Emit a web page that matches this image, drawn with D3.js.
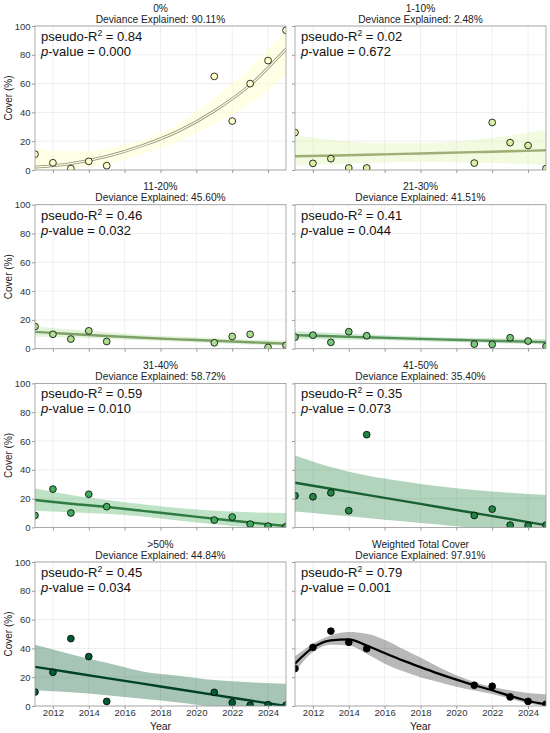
<!DOCTYPE html>
<html>
<head>
<meta charset="utf-8">
<script src="https://cdn.jsdelivr.net/npm/d3@7"></script>
<style>
  body { margin: 0; background: #fff; }
  svg { display: block; font-family: "Liberation Sans", Arial, sans-serif; }
</style>
</head>
<body>
<div id="chart"></div>
<script>
// observed years
const years = [2011, 2012, 2013, 2014, 2015, 2021, 2022, 2023, 2024, 2025];

// size classes and stats
const classes = ['0%', '1-10%', '11-20%', '21-30%', '31-40%', '41-50%', '>50%', 'Weighted Total Cover'];
const deviance = ['90.11', '2.48', '45.60', '41.51', '58.72', '35.40', '44.84', '97.91'];
const pseudoR2 = ['0.84', '0.02', '0.46', '0.41', '0.59', '0.35', '0.45', '0.79'];
const pValues = ['0.000', '0.672', '0.032', '0.044', '0.010', '0.073', '0.034', '0.001'];

// observed cover (%)
const cover0 = [11, 5, 1, 6, 3, 65, 34, 60, 76, 97];
const cover1to10 = [26, 4.6, 7.9, 1.4, 1.4, 4.8, 33, 19, 17, 1];
const cover11to20 = [15.4, 10, 6.7, 12.4, 5, 4.1, 8.5, 10, 0.9, 2.3];
const cover21to30 = [8, 9.4, 4.4, 11.8, 9, 3.2, 3, 7.6, 5.3, 1.6];
const cover31to40 = [8.3, 26.6, 10, 23, 14.4, 5.1, 7.2, 2.3, 0.9, 0.5];
const cover41to50 = [22, 21.3, 24, 11.6, 64.4, 8.3, 12.7, 1.6, 1.2, 1.6];
const coverOver50 = [9.7, 23.4, 46.8, 34.3, 3.2, 9.5, 2.3, 0.5, 0.9, 0.5];
const coverTotal = [26, 40.7, 52, 44.2, 39.8, 14.4, 13.7, 6.3, 3.2, 1.2];

// fitted curves
const fitYears = [2011, 2013, 2015, 2017, 2019, 2021, 2023, 2025];
const fit0 = [2, 4.5, 9.5, 17, 27, 41, 59, 84];
const upper0 = [15, 13, 15, 21, 32, 50, 71, 97];
const lower0 = [0.3, 1.2, 4, 11, 20, 32, 46, 66];
const fit1to10 = [9.5, 10.0, 10.6, 11.2, 11.8, 12.4, 13.0, 13.7];
const upper1to10 = [24, 21, 19, 18.5, 19, 21, 24, 28];
const lower1to10 = [3, 4, 5, 5.5, 5.5, 5, 4.5, 3.5];
const fit11to20 = [11.7, 10.2, 8.8, 7.6, 6.5, 5.5, 4.5, 3.5];
const upper11to20 = [15.5, 13.3, 11.4, 9.6, 8.4, 7.4, 6.4, 5.6];
const lower11to20 = [8.5, 7.7, 6.7, 5.8, 4.9, 3.9, 2.9, 2.0];
const fit21to30 = [9.4, 8.6, 7.9, 7.2, 6.5, 5.8, 5.2, 4.6];
const upper21to30 = [12.2, 11, 9.8, 8.8, 8, 7.4, 7, 6.8];
const lower21to30 = [6.7, 6.4, 6.0, 5.5, 4.9, 4.3, 3.6, 2.9];
const fit31to40 = [19, 16.4, 14.2, 11.5, 8.8, 6, 3.4, 1.0];
const upper31to40 = [27, 22.5, 19, 16, 13.5, 11.5, 10.5, 10];
const lower31to40 = [11.5, 10.5, 9.5, 7.5, 4.8, 2.2, 0.3, 0];
const fit41to50 = [31, 26.8, 22.6, 18.4, 14.2, 10, 5.8, 1.6];
const upper41to50 = [50, 42, 36, 32, 28.5, 26, 24, 22.5];
const lower41to50 = [11, 8.8, 6.6, 4.3, 2, 0, 0, 0];
const fitOver50 = [27.2, 23.3, 19.4, 15.5, 11.6, 7.7, 3.8, 0];
const upperOver50 = [42.6, 36, 30, 24, 21, 18, 16.5, 15.5];
const lowerOver50 = [11, 9.5, 7.5, 5, 2.5, 0, 0, 0];

const fitYearsTotal = [2011, 2012, 2013, 2014, 2015, 2016, 2017, 2018, 2019, 2020, 2021, 2022, 2023, 2024, 2025];
const fitTotal = [29.4, 40.5, 45.6, 46.3, 42, 36.8, 31.7, 27, 22.5, 18.3, 14.4, 10.9, 7, 3.5, 1.2];
const upperTotal = [34.5, 43.3, 49, 51.4, 50.2, 46, 39.8, 33.6, 27, 21.3, 16.7, 13.2, 10.9, 9, 8.1];
const lowerTotal = [23.6, 37.5, 42.6, 42, 36.3, 29.4, 24.3, 20, 16.7, 13.4, 10.8, 8.3, 5.0, 1.8, 0];

const xTicks = [2012, 2014, 2016, 2018, 2020, 2022, 2024];
const yTicks = [0, 20, 40, 60, 80, 100];

const colors = ['#ffffcc', '#d9f0a3', '#addd8e', '#78c679', '#41ab5d', '#238443', '#005a32', '#000000'];

const observed = [cover0, cover1to10, cover11to20, cover21to30, cover31to40, cover41to50, coverOver50, coverTotal];
const fits = [
  { x: fitYears, fit: fit0, lo: lower0, hi: upper0 },
  { x: fitYears, fit: fit1to10, lo: lower1to10, hi: upper1to10 },
  { x: fitYears, fit: fit11to20, lo: lower11to20, hi: upper11to20 },
  { x: fitYears, fit: fit21to30, lo: lower21to30, hi: upper21to30 },
  { x: fitYears, fit: fit31to40, lo: lower31to40, hi: upper31to40 },
  { x: fitYears, fit: fit41to50, lo: lower41to50, hi: upper41to50 },
  { x: fitYears, fit: fitOver50, lo: lowerOver50, hi: upperOver50 },
  { x: fitYearsTotal, fit: fitTotal, lo: lowerTotal, hi: upperTotal }
];

const width = 550, height = 733;
const colX = [35, 295];
const panelW = 251, panelH = 144;
const rowY = [26, 204.7, 383.4, 562];
const frameColor = '#999';
const font = '"Liberation Sans", Arial, sans-serif';

const svg = d3.select('#chart').append('svg')
  .attr('width', width)
  .attr('height', height);

classes.forEach((name, i) => {
  const col = i % 2, row = Math.floor(i / 2);
  const x = d3.scaleLinear().domain([2011, 2025]).range([0, panelW]);
  const y = d3.scaleLinear().domain([0, 100]).range([panelH, 0]);

  const g = svg.append('g')
    .attr('transform', `translate(${colX[col]},${rowY[row]})`);

  svg.append('clipPath').attr('id', `clip${i}`)
    .append('rect').attr('width', panelW).attr('height', panelH);

  // grid
  const grid = g.append('g').attr('stroke', '#e8e8e8').attr('stroke-width', 0.7);
  xTicks.forEach(t => grid.append('line')
    .attr('x1', x(t)).attr('x2', x(t)).attr('y1', 0).attr('y2', panelH));
  yTicks.forEach(t => grid.append('line')
    .attr('x1', 0).attr('x2', panelW).attr('y1', y(t)).attr('y2', y(t)));

  const plot = g.append('g').attr('clip-path', `url(#clip${i})`);
  const f = fits[i];
  const pts = f.x.map((yr, k) => ({ yr, fit: f.fit[k], lo: f.lo[k], hi: f.hi[k] }));

  // confidence band
  plot.append('path')
    .datum(pts)
    .attr('fill', colors[i])
    .attr('fill-opacity', i === 7 ? 0.28 : (i === 0 ? 0.5 : 0.35))
    .attr('d', d3.area()
      .x(d => x(d.yr))
      .y0(d => y(d.lo))
      .y1(d => y(d.hi))
      .curve(d3.curveMonotoneX));

  const line = d3.line()
    .x(d => x(d.yr))
    .y(d => y(d.fit))
    .curve(d3.curveMonotoneX);

  // fitted line
  if (i === 0) {
    // pale class: grey edge with light core
    plot.append('path').datum(pts)
      .attr('fill', 'none').attr('stroke', '#888').attr('stroke-width', 2.8).attr('d', line);
    plot.append('path').datum(pts)
      .attr('fill', 'none').attr('stroke', colors[i]).attr('stroke-width', 1.3).attr('d', line);
  } else {
    plot.append('path').datum(pts)
      .attr('fill', 'none')
      .attr('stroke', i === 7 ? '#000' : d3.color(colors[i]).darker(0.9))
      .attr('stroke-width', i === 7 ? 2.2 : 2.4)
      .attr('d', line);
  }

  // observations
  plot.append('g')
    .selectAll('circle')
    .data(years.map((yr, k) => ({ yr, v: observed[i][k] })))
    .join('circle')
    .attr('cx', d => x(d.yr))
    .attr('cy', d => y(d.v))
    .attr('r', 3.4)
    .attr('fill', colors[i])
    .attr('stroke', '#000')
    .attr('stroke-width', 0.8);

  // frame
  g.append('rect')
    .attr('width', panelW)
    .attr('height', panelH)
    .attr('fill', 'none')
    .attr('stroke', frameColor)
    .attr('stroke-width', 0.8);

  // x axis
  const xAxis = g.append('g')
    .attr('transform', `translate(0,${panelH})`)
    .call(d3.axisBottom(x).tickValues(xTicks).tickSize(3).tickFormat(row === 3 ? d3.format('d') : ''));
  xAxis.select('.domain').remove();
  xAxis.selectAll('line').attr('stroke', frameColor);
  xAxis.selectAll('text')
    .attr('fill', '#333')
    .attr('font-size', 9.5)
    .attr('font-family', font)
    .attr('y', 3)
    .attr('dy', '0.71em');

  // y axis
  const yAxis = g.append('g')
    .call(d3.axisLeft(y).tickValues(yTicks).tickSize(3).tickFormat(col === 0 ? d3.format('d') : ''));
  yAxis.select('.domain').remove();
  yAxis.selectAll('line').attr('stroke', frameColor);
  yAxis.selectAll('text')
    .attr('fill', '#333')
    .attr('font-size', 9.5)
    .attr('font-family', font)
    .attr('x', -4.5);

  if (col === 0) {
    g.append('text')
      .attr('transform', `translate(-23,${panelH / 2}) rotate(-90)`)
      .attr('text-anchor', 'middle')
      .attr('font-size', 10)
      .attr('fill', '#222')
      .text('Cover (%)');
  }
  if (row === 3) {
    g.append('text')
      .attr('x', panelW / 2)
      .attr('y', panelH + 24)
      .attr('text-anchor', 'middle')
      .attr('font-size', 10.5)
      .attr('fill', '#222')
      .text('Year');
  }

  // titles
  g.append('text')
    .attr('x', panelW / 2)
    .attr('y', -14.5)
    .attr('text-anchor', 'middle')
    .attr('font-size', 10.2)
    .attr('fill', '#222')
    .text(name);
  g.append('text')
    .attr('x', panelW / 2)
    .attr('y', -3.5)
    .attr('text-anchor', 'middle')
    .attr('font-size', 10.2)
    .attr('fill', '#222')
    .text(`Deviance Explained: ${deviance[i]}%`);

  // stats
  const r2 = g.append('text')
    .attr('x', 6)
    .attr('y', 15)
    .attr('font-size', 13)
    .attr('fill', '#111');
  r2.append('tspan').text('pseudo-R');
  r2.append('tspan').attr('font-size', 8.5).attr('dy', -5).text('2');
  r2.append('tspan').attr('dy', 5).text(` = ${pseudoR2[i]}`);

  const pv = g.append('text')
    .attr('x', 6)
    .attr('y', 30)
    .attr('font-size', 13)
    .attr('fill', '#111');
  pv.append('tspan').attr('font-style', 'italic').text('p');
  pv.append('tspan').text(`-value = ${pValues[i]}`);
});
</script>
</body>
</html>
